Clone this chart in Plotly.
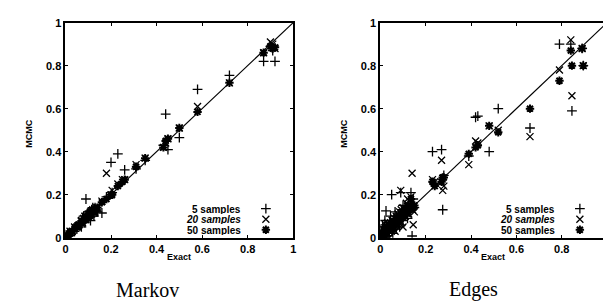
import plotly.graph_objects as go

# ---------------- data ----------------
markov_exact = [0.0, 0.005, 0.01, 0.015, 0.02, 0.03, 0.04, 0.05, 0.055, 0.06, 0.07, 0.075, 0.08,
                0.085, 0.09, 0.095, 0.10, 0.10, 0.105, 0.11, 0.11, 0.115, 0.12, 0.12, 0.125, 0.13,
                0.135, 0.14, 0.16, 0.18, 0.20, 0.205, 0.23, 0.25, 0.26, 0.31, 0.35, 0.43, 0.44,
                0.45, 0.50, 0.58, 0.72, 0.87, 0.90, 0.91, 0.92]
markov_s5 = [0.01, 0.0, 0.02, 0.01, 0.01, 0.04, 0.03, 0.04, 0.06, 0.07, 0.05, 0.09, 0.10,
             0.07, 0.18, 0.11, 0.09, 0.12, 0.12, 0.08, 0.10, 0.13, 0.11, 0.14, 0.10, 0.14,
             0.12, 0.12, 0.115, 0.19, 0.35, 0.21, 0.39, 0.26, 0.315, 0.32, 0.36, 0.43, 0.575,
             0.41, 0.465, 0.69, 0.755, 0.82, 0.89, 0.87, 0.82]
markov_s20 = [0.0, 0.01, 0.01, 0.02, 0.03, 0.03, 0.05, 0.05, 0.05, 0.06, 0.08, 0.07, 0.09,
              0.10, 0.10, 0.09, 0.11, 0.10, 0.11, 0.12, 0.11, 0.11, 0.13, 0.12, 0.12, 0.12,
              0.14, 0.14, 0.17, 0.30, 0.20, 0.22, 0.25, 0.27, 0.27, 0.34, 0.37, 0.42, 0.44,
              0.46, 0.51, 0.61, 0.72, 0.86, 0.91, 0.90, 0.88]
markov_s50 = [0.0, 0.005, 0.01, 0.015, 0.02, 0.03, 0.04, 0.05, 0.055, 0.06, 0.07, 0.075, 0.08,
              0.085, 0.09, 0.095, 0.10, 0.10, 0.11, 0.11, 0.11, 0.12, 0.12, 0.125, 0.125, 0.13,
              0.135, 0.14, 0.165, 0.18, 0.20, 0.20, 0.24, 0.26, 0.27, 0.33, 0.37, 0.42, 0.45,
              0.46, 0.51, 0.585, 0.72, 0.86, 0.89, 0.88, 0.885]

edges_exact = [0.0, 0.0, 0.003, 0.005, 0.008, 0.01, 0.01, 0.012, 0.015, 0.018, 0.02, 0.02,
               0.022, 0.025, 0.028, 0.03, 0.032, 0.035, 0.038, 0.04, 0.042, 0.045, 0.048, 0.05,
               0.052, 0.055, 0.058, 0.06, 0.062, 0.065, 0.068, 0.07, 0.072, 0.075, 0.078, 0.08,
               0.082, 0.085, 0.088, 0.09, 0.092, 0.095, 0.10, 0.10, 0.105, 0.11, 0.112, 0.115,
               0.12, 0.122, 0.125, 0.13, 0.135, 0.14, 0.142, 0.145, 0.15,
               0.23, 0.24, 0.27, 0.275, 0.28, 0.39, 0.42, 0.43, 0.48, 0.52, 0.66, 0.79, 0.84,
               0.845, 0.89, 0.895]
edges_s5 = [0.01, 0.0, 0.03, 0.02, 0.0, 0.06, 0.01, 0.04, 0.02, 0.05, 0.0, 0.08,
            0.03, 0.125, 0.06, 0.01, 0.04, 0.05, 0.02, 0.03, 0.07, 0.10, 0.06, 0.20,
            0.03, 0.02, 0.08, 0.09, 0.05, 0.12, 0.07, 0.04, 0.10, 0.07, 0.06, 0.11,
            0.08, 0.05, 0.10, 0.21, 0.09, 0.13, 0.08, 0.15, 0.11, 0.12, 0.10, 0.14,
            0.09, 0.13, 0.16, 0.12, 0.21, 0.008, 0.15, 0.18, 0.14,
            0.40, 0.25, 0.41, 0.13, 0.29, 0.38, 0.56, 0.565, 0.40, 0.60, 0.51, 0.90, 0.90,
            0.59, 0.88, 0.80]
edges_s20 = [0.0, 0.02, 0.01, 0.03, 0.02, 0.0, 0.04, 0.02, 0.04, 0.01, 0.01, 0.03,
             0.06, 0.05, 0.02, 0.02, 0.07, 0.06, 0.04, 0.0, 0.05, 0.07, 0.03, 0.04,
             0.08, 0.08, 0.05, 0.05, 0.09, 0.03, 0.06, 0.10, 0.08, 0.09, 0.11, 0.06,
             0.10, 0.12, 0.07, 0.22, 0.13, 0.07, 0.05, 0.14, 0.13, 0.10, 0.12, 0.16,
             0.18, 0.11, 0.11, 0.17, 0.19, 0.30, 0.13, 0.06, 0.12,
             0.27, 0.26, 0.36, 0.22, 0.24, 0.34, 0.45, 0.44, 0.52, 0.50, 0.47, 0.78, 0.92,
             0.66, 0.88, 0.80]
edges_s50 = [0.0, 0.005, 0.005, 0.01, 0.01, 0.015, 0.01, 0.015, 0.02, 0.02, 0.025, 0.02,
             0.025, 0.03, 0.03, 0.035, 0.035, 0.04, 0.04, 0.045, 0.045, 0.05, 0.05, 0.055,
             0.055, 0.06, 0.06, 0.065, 0.065, 0.07, 0.07, 0.075, 0.075, 0.08, 0.08, 0.085,
             0.085, 0.09, 0.09, 0.10, 0.095, 0.10, 0.11, 0.12, 0.11, 0.12, 0.115, 0.13,
             0.14, 0.125, 0.12, 0.14, 0.18, 0.15, 0.145, 0.14, 0.15,
             0.26, 0.24, 0.26, 0.28, 0.28, 0.39, 0.42, 0.43, 0.52, 0.49, 0.60, 0.73, 0.87,
             0.80, 0.88, 0.80]

series_names = ["5 samples", "20 samples", "50 samples"]
tick_vals = [0, 0.2, 0.4, 0.6, 0.8, 1]
tick_text = ["0", "0.2", "0.4", "0.6", "0.8", "1"]
panel_titles = ["Markov", "Edges"]

# ---------------- styling ----------------
symbols = ["cross-thin-open", "x-thin-open", "asterisk-open"]
sizes = [7, 7, 7]
widths = [1.3, 1.3, 2.0]
sans_bold = "Liberation Sans, Arial, sans-serif"

fig = go.Figure()

panels = [
    (markov_exact, [markov_s5, markov_s20, markov_s50], "x", "y"),
    (edges_exact, [edges_s5, edges_s20, edges_s50], "x2", "y2"),
]

# legend key rows (in axis units)
legend_rows = [0.135, 0.086, 0.037]
legend_sym_x = 0.88
legend_txt_x = 0.775

for exact, series, xa, ya in panels:
    for k, ys in enumerate(series):
        fig.add_trace(go.Scatter(
            x=exact, y=ys, mode="markers", xaxis=xa, yaxis=ya,
            name=series_names[k], showlegend=False,
            marker=dict(symbol=symbols[k], size=sizes[k], color="black",
                        line=dict(color="black", width=widths[k])),
        ))
    # legend keys
    for k in range(3):
        fig.add_trace(go.Scatter(
            x=[legend_sym_x], y=[legend_rows[k]], mode="markers", xaxis=xa, yaxis=ya,
            showlegend=False, hoverinfo="skip",
            marker=dict(symbol=symbols[k], size=sizes[k], color="black",
                        line=dict(color="black", width=widths[k])),
        ))
        fig.add_annotation(
            x=legend_txt_x, y=legend_rows[k], xref=xa, yref=ya,
            text=("<i><b>%s</b></i>" % series_names[k]) if k == 1 else "<b>%s</b>" % series_names[k],
            showarrow=False, xanchor="right", yanchor="middle", height=10, borderpad=0,
            font=dict(family=sans_bold, size=10, color="black"),
        )
    # diagonal y = x
    fig.add_shape(type="line", x0=0, y0=0, x1=1, y1=1, xref=xa, yref=ya,
                  line=dict(color="black", width=1.2))

axis_common = dict(
    range=[0, 1], tickvals=tick_vals, ticktext=["<b>%s</b>" % t for t in tick_text],
    ticks="inside", ticklen=3,
    tickwidth=1, tickcolor="black", showline=True, linecolor="black", linewidth=2,
    mirror="ticks", showgrid=False, zeroline=False,
    tickfont=dict(family=sans_bold, size=11, color="black"),
)

fig.update_layout(
    width=611, height=301,
    margin=dict(l=0, r=0, t=0, b=0),
    paper_bgcolor="white", plot_bgcolor="white",
    showlegend=False,
    xaxis=dict(domain=[55 / 611, 285 / 611], anchor="y", **axis_common),
    yaxis=dict(domain=[68 / 301, 292 / 301], anchor="x", **axis_common),
    xaxis2=dict(domain=[373 / 611, 602 / 611], anchor="y2", **axis_common),
    yaxis2=dict(domain=[68 / 301, 292 / 301], anchor="x2", **axis_common),
)

# axis titles and panel titles
for i, cx in enumerate([170 / 611, 487 / 611]):
    fig.add_annotation(text="<b>Exact</b>", x=cx, y=1 - 253 / 301, xref="paper", yref="paper",
                       showarrow=False, xanchor="center", yanchor="middle",
                       font=dict(family=sans_bold, size=9, color="black"))
    fig.add_annotation(text=panel_titles[i], x=(138 if i == 0 else 467) / 611, y=1 - 287 / 301,
                       xref="paper", yref="paper", showarrow=False,
                       xanchor="center", yanchor="middle",
                       font=dict(family="Liberation Serif, Times New Roman, serif", size=20,
                                 color="black"))
for lx in (18 / 611, 336 / 611):
    fig.add_annotation(text="<b>MCMC</b>", x=lx, y=1 - 125 / 301, xref="paper", yref="paper",
                       showarrow=False, textangle=-90, xanchor="center", yanchor="middle",
                       font=dict(family=sans_bold, size=9, color="black"))

fig.write_html("out.html")
